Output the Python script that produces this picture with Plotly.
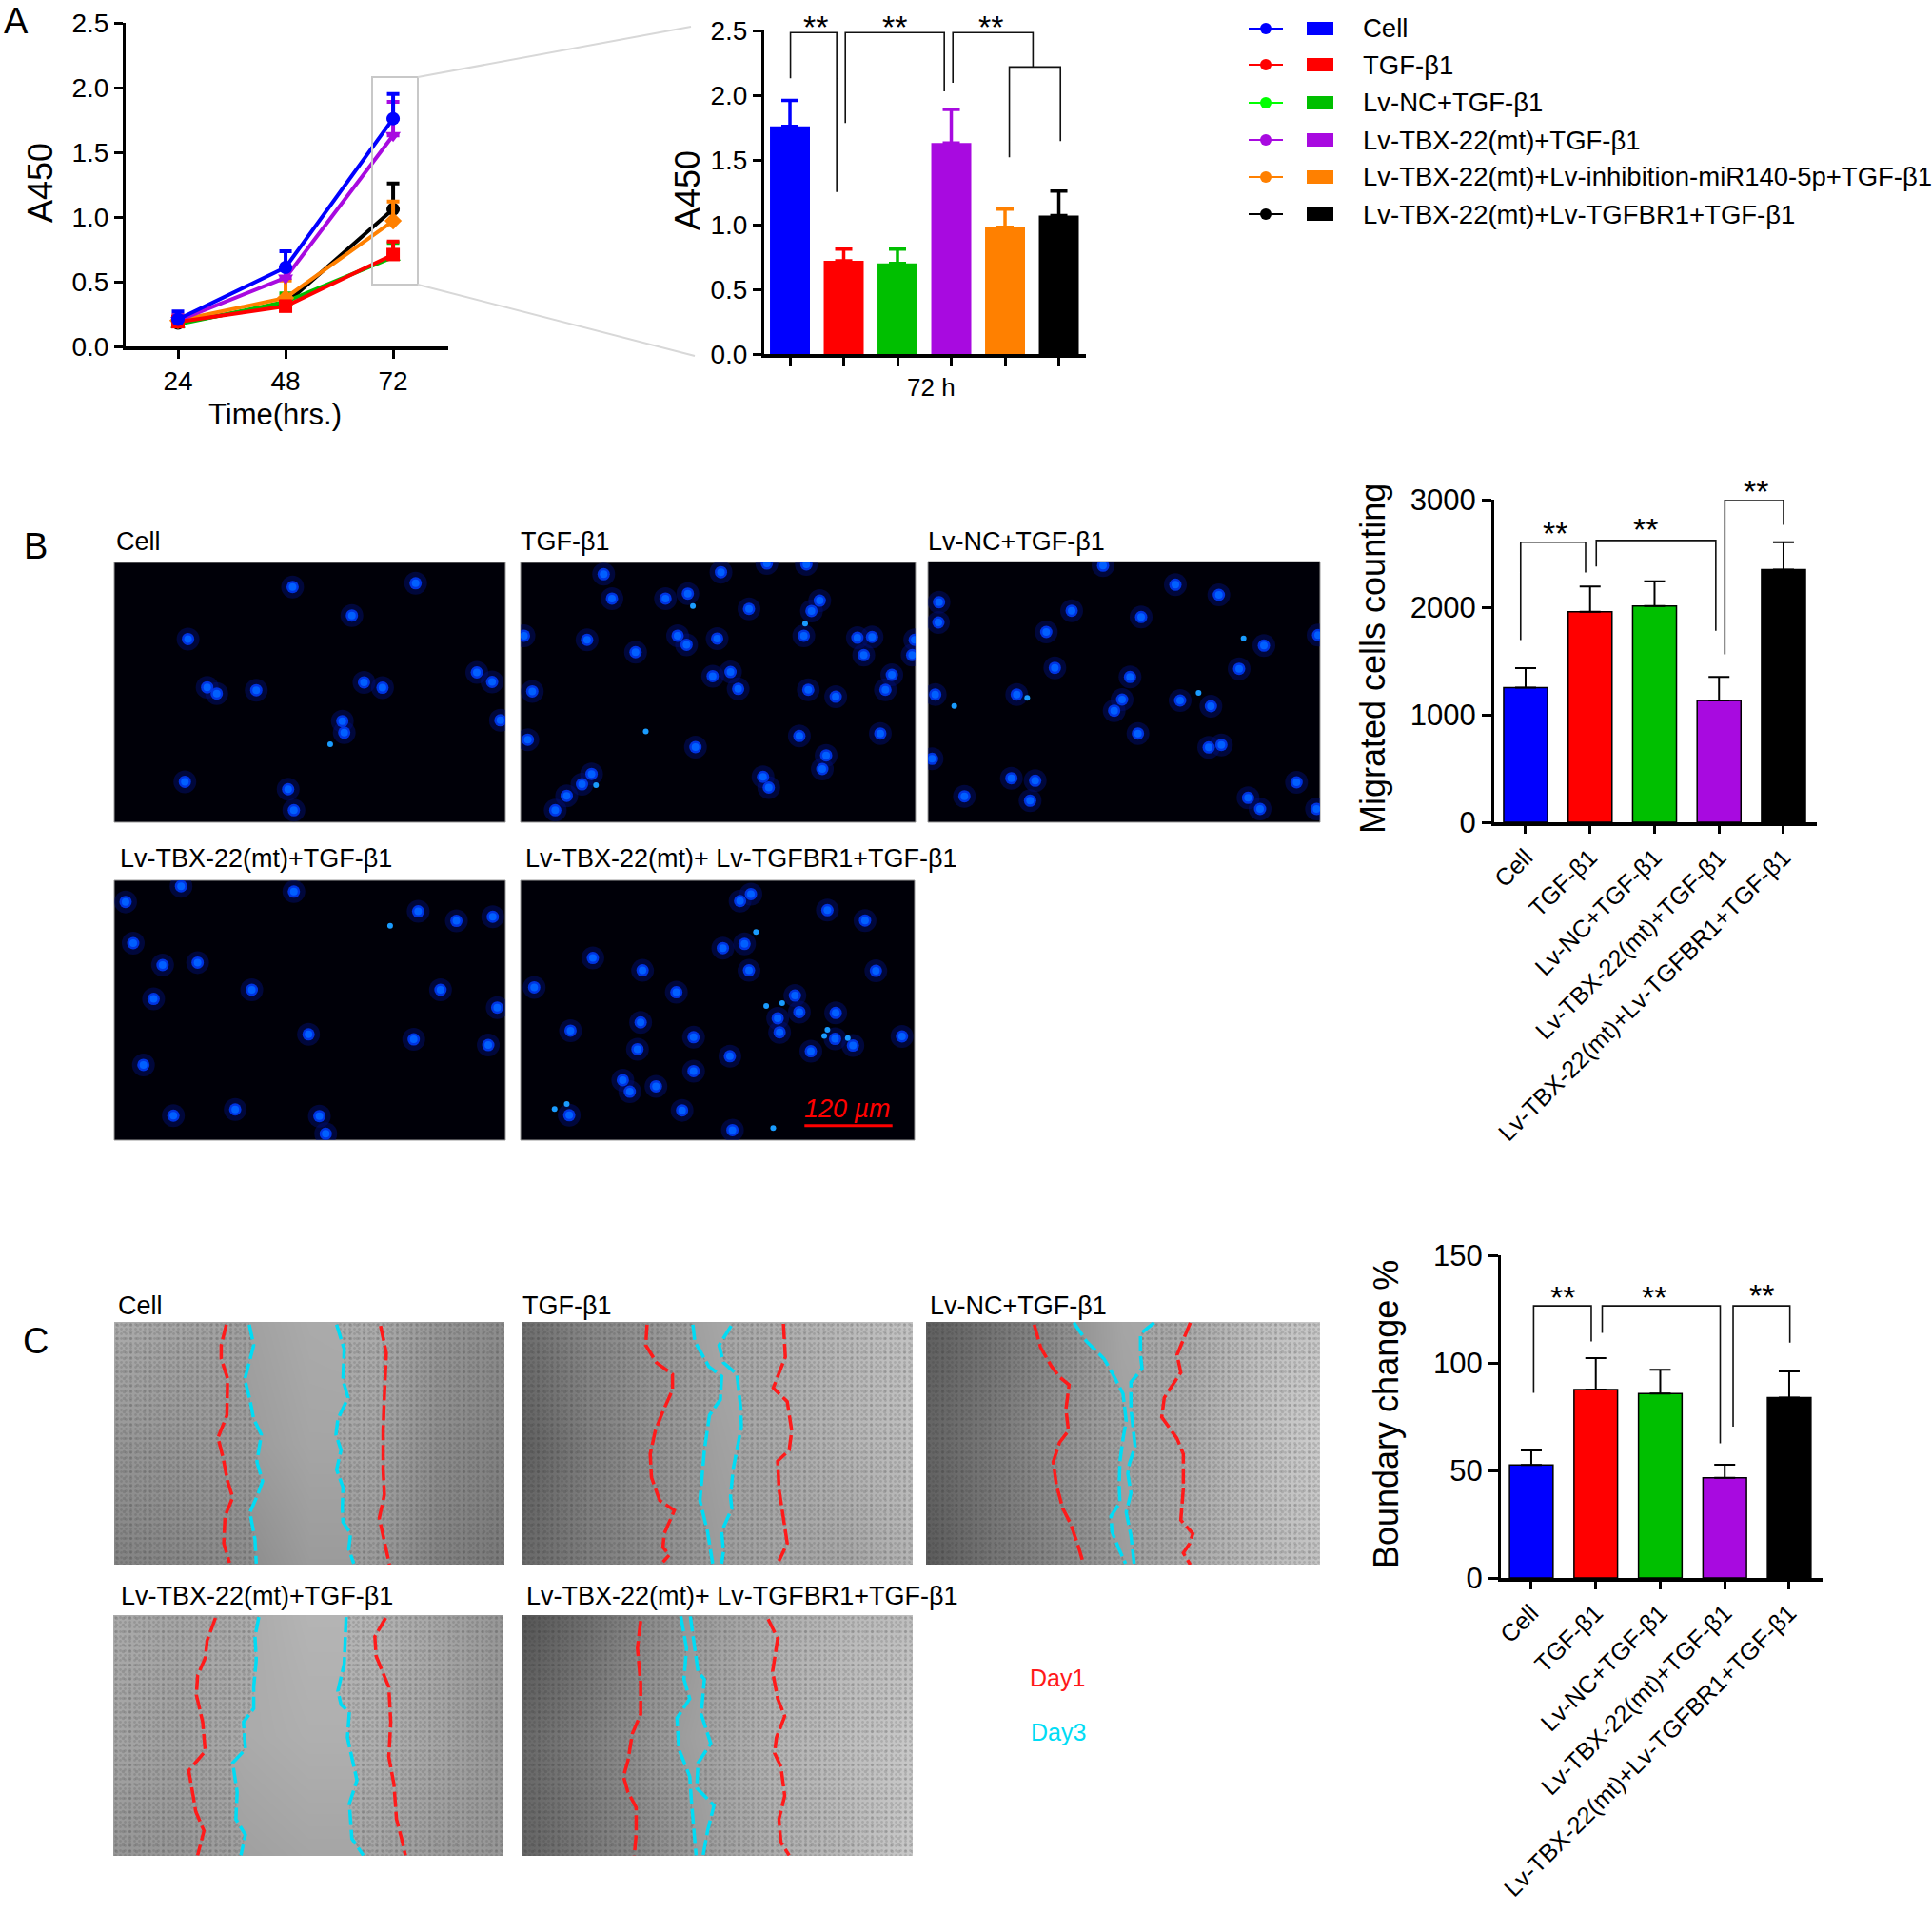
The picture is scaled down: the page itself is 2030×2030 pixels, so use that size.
import numpy as np
import plotly.graph_objects as go

W = 2030
H = 2030
FONT = "Liberation Sans"

# group names and colours
LEGEND_NAMES = ["Cell", "TGF-β1", "Lv-NC+TGF-β1", "Lv-TBX-22(mt)+TGF-β1",
                "Lv-TBX-22(mt)+Lv-inhibition-miR140-5p+TGF-β1", "Lv-TBX-22(mt)+Lv-TGFBR1+TGF-β1"]
SHORT_NAMES = ["Cell", "TGF-β1", "Lv-NC+TGF-β1", "Lv-TBX-22(mt)+TGF-β1", "Lv-TBX-22(mt)+Lv-TGFBR1+TGF-β1"]
COLORS = ["#0000ff", "#ff0000", "#00bf00", "#a80ae0", "#ff8000", "#000000"]
LEGEND_LINE_COLORS = ["#0000ff", "#ff0000", "#00ff00", "#a80ae0", "#ff8000", "#000000"]
SYMBOLS = ["circle", "square", "triangle-up", "triangle-down", "diamond", "circle"]
COLORS5 = ["#0000ff", "#ff0000", "#00bf00", "#a80ae0", "#000000"]

# panel A, line chart
HOURS = [24, 48, 72]
A_LINE_VALS = [
    [0.21, 0.61, 1.76],
    [0.19, 0.31, 0.71],
    [0.17, 0.345, 0.69],
    [0.20, 0.53, 1.63],
    [0.20, 0.375, 0.97],
    [0.18, 0.33, 1.06],
]
A_LINE_TOPS = [
    [0.27, 0.735, 1.95],
    [0.23, 0.35, 0.81],
    [0.20, 0.41, 0.80],
    [0.24, 0.60, 1.89],
    [0.24, 0.51, 1.12],
    [0.21, 0.37, 1.26],
]
A_LINE_ORDER = [5, 2, 4, 3, 1, 0]

# panel A, bars at 72 h
A_BAR_VALS = [1.76, 0.72, 0.70, 1.63, 0.98, 1.07]
A_BAR_TOPS = [1.96, 0.81, 0.81, 1.89, 1.12, 1.26]
A_BRACKETS = [
    ([0.01, 0.01, 0.87, 0.87], [2.13, 2.483, 2.483, 1.252]),
    ([1.03, 1.03, 2.87, 2.87], [1.785, 2.483, 2.483, 2.03]),
    ([3.03, 3.03, 4.52, 4.52], [2.095, 2.483, 2.483, 2.22]),
    ([4.08, 4.08, 5.03, 5.03], [1.52, 2.218, 2.218, 1.645]),
]
A_STARS = [(0.47, 2.59), (1.95, 2.59), (3.74, 2.59)]

# panel B, migrated cells
B_VALS = [1253, 1957, 2011, 1133, 2349]
B_TOPS = [1434, 2192, 2242, 1352, 2604]
B_BRACKETS = [
    ([-0.077, -0.077, 0.93, 0.93], [1694, 2604, 2604, 2324]),
    ([1.096, 1.096, 2.95, 2.95], [2378, 2621, 2621, 1780]),
    ([3.09, 3.09, 4.0, 4.0], [1562, 3000, 3000, 2765]),
]
B_STARS = [(0.456, 2760), (1.855, 2800), (3.57, 3150)]

# panel C, boundary change
C_VALS = [52.5, 87.6, 85.7, 46.6, 83.9]
C_TOPS = [59.3, 102.2, 96.8, 52.7, 96.0]
C_BRACKETS = [
    ([0.036, 0.036, 0.93, 0.93], [86.1, 126.5, 126.5, 110]),
    ([1.1, 1.1, 2.93, 2.93], [113.9, 126.5, 126.5, 62.6]),
    ([3.13, 3.13, 4.01, 4.01], [70.3, 126.5, 126.5, 109.4]),
]
C_STARS = [(0.48, 134), (1.91, 134), (3.57, 135)]

NUC_CELL = [(459, 177), (652, 168), (552, 246), (295, 303), (325, 420), (340, 435), (402, 427), (571, 408),
            (600, 421), (748, 384), (772, 407), (785, 500), (537, 502), (540, 530), (290, 649), (452, 667),
            (461, 718)]
NUC_CELL_SMALL = [(518, 558)]
NUC_TGF = [(947, 146), (1131, 141), (1203, 120), (1265, 122), (960, 205), (1044, 205), (1079, 193), (1175, 230),
           (1286, 210), (1273, 235), (1261, 295), (822, 295), (921, 305), (1063, 295), (1077, 317), (1125, 302),
           (997, 335), (1345, 300), (1368, 298), (1355, 342), (1435, 305), (1431, 342), (1118, 393), (1146, 383),
           (1158, 424), (1399, 390), (1389, 426), (1268, 426), (1311, 443), (835, 430), (1254, 538), (1381, 532),
           (828, 547), (1091, 565), (1296, 585), (1290, 618), (928, 630), (913, 655), (889, 683), (871, 718),
           (1197, 637), (1206, 663)]
NUC_TGF_SMALL = [(1087, 223), (1263, 266), (1013, 527), (935, 657)]
NUC_NC = [(597, 43), (825, 103), (962, 135), (80, 158), (78, 222), (498, 185), (717, 205), (418, 252), (1104, 295),
          (1275, 262), (445, 365), (1026, 368), (682, 394), (68, 449), (325, 449), (657, 465), (632, 500), (840, 468),
          (937, 486), (707, 572), (930, 616), (970, 608), (58, 652), (308, 713), (383, 721), (160, 770), (367, 784),
          (1207, 726), (1054, 775), (1092, 810), (1270, 810)]
NUC_NC_SMALL = [(1040, 272), (358, 460), (128, 485), (898, 444)]
NUC_TBX = [(197, 940), (284, 902), (461, 915), (656, 963), (716, 986), (773, 976), (209, 1040), (255, 1093),
           (310, 1087), (395, 1153), (691, 1153), (241, 1175), (780, 1196), (484, 1261), (649, 1273), (766, 1287),
           (225, 1335), (369, 1443), (272, 1458), (501, 1459), (511, 1502)]
NUC_TBX_SMALL = [(612, 998)]
NUC_BR1 = [(1178, 921), (1161, 938), (1298, 960), (1357, 985), (1168, 1042), (1134, 1052), (930, 1076), (1008, 1106),
           (1175, 1106), (1374, 1107), (838, 1147), (1061, 1159), (1247, 1167), (1254, 1207), (1220, 1222), (1311, 1209),
           (1005, 1232), (1223, 1256), (895, 1252), (1088, 1268), (1310, 1272), (1338, 1288), (1415, 1266), (1000, 1297),
           (1272, 1302), (1145, 1314), (1088, 1350), (977, 1372), (988, 1400), (1029, 1387), (893, 1457), (1070, 1445),
           (1149, 1493)]
NUC_BR1_SMALL = [(1186, 1013), (1227, 1185), (1202, 1192), (1298, 1250), (1293, 1265), (1330, 1270), (870, 1442),
                 (889, 1430), (1213, 1488)]
SCALE_BAR = [(1262, 1482), (1400, 1482)]

# scratch images: grey level read by eye on a coarse grid, 3 rows by 7 columns
GREY_C1 = [[172, 165, 160, 170, 172, 150, 140], [150, 150, 155, 165, 165, 140, 130], [130, 135, 140, 155, 155, 130, 120]]
GREY_C2 = [[110, 135, 150, 165, 175, 185, 195], [95, 125, 145, 160, 170, 180, 190], [105, 125, 140, 155, 165, 165, 180]]
GREY_C3 = [[95, 115, 140, 165, 170, 190, 200], [100, 120, 145, 160, 170, 190, 205], [90, 115, 135, 155, 170, 185, 195]]
GREY_C4 = [[170, 165, 170, 180, 180, 165, 150], [165, 160, 170, 175, 175, 165, 150], [150, 150, 160, 165, 165, 155, 150]]
GREY_C5 = [[85, 110, 140, 160, 175, 185, 190], [105, 125, 150, 165, 180, 190, 200], [100, 120, 140, 160, 175, 185, 200]]

# scratch borders, crop units
C1_RED_L = [(355, 127), (347, 180), (347, 215), (357, 265), (356, 360), (342, 418), (350, 470), (357, 530), (365, 572), (353, 620), (351, 690), (360, 740)]
C1_CYAN_L = [(391, 127), (398, 180), (384, 268), (392, 320), (398, 370), (410, 410), (403, 480), (412, 530), (403, 570), (392, 610), (400, 680), (402, 742)]
C1_CYAN_R = [(528, 127), (540, 190), (538, 270), (546, 315), (530, 370), (527, 410), (535, 450), (528, 500), (538, 545), (537, 600), (538, 635), (550, 665), (547, 705), (555, 742)]
C1_RED_R = [(597, 130), (606, 200), (603, 310), (601, 400), (601, 500), (603, 565), (595, 625), (603, 690), (611, 745)]
C2_RED_L = [(1015, 127), (1013, 180), (1030, 225), (1055, 255), (1055, 295), (1040, 350), (1028, 400), (1020, 460), (1022, 520), (1035, 580), (1058, 605), (1042, 665), (1040, 700), (1050, 720), (1040, 738)]
C2_CYAN_L = [(1087, 127), (1090, 170), (1112, 235), (1132, 260), (1130, 320), (1113, 360), (1105, 450), (1098, 580), (1110, 660), (1118, 742)]
C2_CYAN_R = [(1147, 130), (1128, 180), (1135, 225), (1156, 255), (1162, 340), (1163, 390), (1150, 500), (1146, 570), (1148, 600), (1132, 660), (1135, 710), (1132, 742)]
C2_RED_R = [(1229, 125), (1232, 210), (1213, 290), (1235, 325), (1242, 400), (1238, 450), (1220, 478), (1222, 550), (1235, 690), (1222, 735)]
C3_RED_L = [(380, 127), (400, 185), (435, 235), (460, 262), (490, 282), (480, 345), (488, 400), (460, 430), (440, 480), (450, 540), (470, 600), (495, 640), (520, 700), (535, 742)]
C3_CYAN_L = [(505, 122), (545, 170), (600, 215), (625, 250), (660, 305), (665, 345), (670, 375), (660, 420), (650, 480), (648, 540), (650, 585), (622, 620), (625, 660), (650, 710), (668, 742)]
C3_CYAN_R = [(758, 122), (715, 150), (715, 205), (720, 240), (685, 275), (685, 345), (692, 395), (698, 440), (680, 485), (675, 510), (685, 560), (670, 610), (685, 670), (695, 742)]
C3_RED_R = [(872, 122), (830, 205), (842, 250), (790, 315), (782, 365), (830, 420), (850, 460), (850, 550), (842, 630), (880, 665), (870, 690), (850, 715), (872, 745)]
C4_RED_L = [(338, 882), (325, 940), (322, 985), (310, 1030), (308, 1080), (318, 1150), (322, 1225), (296, 1275), (303, 1340), (307, 1380), (320, 1430), (310, 1493)]
C4_CYAN_L = [(406, 880), (400, 930), (402, 990), (398, 1060), (398, 1115), (382, 1150), (385, 1220), (365, 1255), (372, 1330), (370, 1400), (385, 1440), (378, 1493)]
C4_CYAN_R = [(543, 880), (540, 1000), (530, 1070), (535, 1105), (548, 1125), (545, 1190), (560, 1300), (548, 1360), (552, 1450), (570, 1493)]
C4_RED_R = [(605, 882), (588, 930), (590, 980), (610, 1060), (613, 1150), (610, 1240), (618, 1310), (622, 1400), (630, 1450), (636, 1493)]
C5_RED_L = [(1005, 890), (1000, 960), (1005, 1050), (1005, 1130), (992, 1180), (985, 1250), (978, 1290), (985, 1330), (998, 1370), (998, 1440), (995, 1493)]
C5_CYAN_L = [(1068, 878), (1077, 960), (1073, 1040), (1082, 1090), (1062, 1140), (1065, 1220), (1082, 1290), (1085, 1360), (1092, 1493)]
C5_CYAN_R = [(1083, 878), (1090, 960), (1095, 1020), (1105, 1040), (1100, 1130), (1115, 1205), (1095, 1255), (1093, 1320), (1120, 1365), (1110, 1430), (1103, 1493)]
C5_RED_R = [(1205, 885), (1220, 935), (1212, 1020), (1220, 1090), (1231, 1135), (1218, 1190), (1215, 1230), (1225, 1265), (1231, 1340), (1222, 1400), (1225, 1460), (1238, 1493)]

fig = go.Figure()
shapes = []
annotations = []
axis_n = 1


def px(x):
    return x / W


def py(y):
    return 1 - y / H


def add_axes(box, xrange, yrange, xkw=None, ykw=None):
    # box is x0, y0, x1, y1 in page pixels
    global axis_n
    axis_n += 1
    x0, y0, x1, y1 = box
    fig.layout[f"xaxis{axis_n}"] = dict(domain=[px(x0), px(x1)], range=xrange, anchor=f"y{axis_n}", automargin=False,
                                        **(xkw or dict(visible=False)))
    fig.layout[f"yaxis{axis_n}"] = dict(domain=[py(y1), py(y0)], range=yrange, anchor=f"x{axis_n}", automargin=False,
                                        **(ykw or dict(visible=False)))
    return f"x{axis_n}", f"y{axis_n}"


def page_text(x, y, s, size, color="black", anchor="left", angle=0, italic=False):
    annotations.append(dict(xref="paper", yref="paper", x=px(x), y=py(y), text=f"<i>{s}</i>" if italic else s,
                            showarrow=False, xanchor=anchor, yanchor="middle", textangle=angle,
                            font=dict(family=FONT, size=size, color=color)))


def page_line(x0, y0, x1, y1, color, width):
    shapes.append(dict(type="line", xref="paper", yref="paper", x0=px(x0), y0=py(y0), x1=px(x1), y1=py(y1),
                       line=dict(color=color, width=width)))


def axis_style(tickfont_size, **kw):
    return dict(showgrid=False, zeroline=False, showline=True, linecolor="black", ticks="outside",
                tickcolor="black", tickfont=dict(family=FONT, size=tickfont_size, color="black"), **kw)


def add_brackets(brackets, stars, xa, ya, box, ymax, star_size=34):
    for bx, by in brackets:
        fig.add_trace(go.Scatter(x=bx, y=by, xaxis=xa, yaxis=ya, mode="lines", line=dict(color="#111111", width=1.6),
                                 showlegend=False, hoverinfo="skip", cliponaxis=False))
    # star heights can pass the top of the axis, so they go by paper height
    for sx, sy in stars:
        y_page = box[3] - sy / ymax * (box[3] - box[1])
        annotations.append(dict(xref=xa, yref="paper", x=sx, y=py(y_page), text="**", showarrow=False, yshift=-8,
                                yanchor="middle", font=dict(family=FONT, size=star_size, color="black")))


def add_grouped_bars(vals, tops, colors, names, xa, ya, width, border, err_thick, err_cap, err_same_color):
    for i, (v, t) in enumerate(zip(vals, tops)):
        fig.add_trace(go.Bar(x=[i], y=[v], xaxis=xa, yaxis=ya, width=width, name=names[i], showlegend=False,
                             marker=dict(color=colors[i], line=dict(color="black", width=border)),
                             error_y=dict(type="data", symmetric=False, array=[t - v], arrayminus=[0],
                                          color=colors[i] if err_same_color else "black",
                                          thickness=err_thick, width=err_cap)))


# ---- panel A line chart
xa, ya = add_axes((132, 24, 471, 364), [12.32, 84.3], [0, 2.5],
                  axis_style(28, tickvals=HOURS, ticklen=9, tickwidth=3, linewidth=3.5),
                  axis_style(28, tickvals=[0, 0.5, 1, 1.5, 2, 2.5], tickformat=".1f", ticklen=9, tickwidth=3, linewidth=3))
for i in A_LINE_ORDER:
    vals = A_LINE_VALS[i]
    ups = [t - v for t, v in zip(A_LINE_TOPS[i], vals)]
    fig.add_trace(go.Scatter(x=HOURS, y=vals, xaxis=xa, yaxis=ya, mode="lines+markers", name=LEGEND_NAMES[i],
                             showlegend=False, cliponaxis=False,
                             line=dict(color=COLORS[i], width=4),
                             marker=dict(color=COLORS[i], size=14, symbol=SYMBOLS[i]),
                             error_y=dict(type="data", symmetric=False, array=ups, arrayminus=[0, 0, 0],
                                          color=COLORS[i], thickness=4, width=6.5)))
# zoom box and its guide lines
shapes.append(dict(type="rect", xref="paper", yref="paper", x0=px(391), x1=px(439), y0=py(81), y1=py(299),
                   line=dict(color="#c8c8c8", width=2)))
page_line(439, 81, 726, 28, "#d8d8d8", 2)
page_line(439, 299, 730, 374, "#d8d8d8", 2)

# ---- panel A bars
box = (803, 32, 1141, 372)
xa, ya = add_axes(box, [-0.478, 5.504], [0, 2.5],
                  axis_style(26, tickvals=list(range(6)), showticklabels=False, ticklen=9, tickwidth=2.5, linewidth=3.5),
                  axis_style(28, tickvals=[0, 0.5, 1, 1.5, 2, 2.5], tickformat=".1f", ticklen=9, tickwidth=3, linewidth=3))
add_grouped_bars(A_BAR_VALS, A_BAR_TOPS, COLORS, LEGEND_NAMES, xa, ya, 0.743, 0, 3.5, 9, True)
add_brackets(A_BRACKETS, A_STARS, xa, ya, box, 2.5)

# ---- panel B bars
box = (1570, 525, 1909, 864)
xa, ya = add_axes(box, [-0.487, 4.517], [0, 3000],
                  axis_style(25.5, tickvals=list(range(5)), ticktext=SHORT_NAMES, tickangle=-45, ticklen=8, tickwidth=3, linewidth=3.5),
                  axis_style(31, tickvals=[0, 1000, 2000, 3000], ticklen=10, tickwidth=3, linewidth=3))
add_grouped_bars(B_VALS, B_TOPS, COLORS5, SHORT_NAMES, xa, ya, 0.68, 1.5, 2, 11, False)
add_brackets(B_BRACKETS, B_STARS, xa, ya, box, 3000)

# ---- panel C bars
box = (1577, 1319, 1915, 1658)
xa, ya = add_axes(box, [-0.472, 4.517], [0, 150],
                  axis_style(25.5, tickvals=list(range(5)), ticktext=SHORT_NAMES, tickangle=-45, ticklen=8, tickwidth=3, linewidth=3.5),
                  axis_style(31, tickvals=[0, 50, 100, 150], ticklen=10, tickwidth=3, linewidth=3))
add_grouped_bars(C_VALS, C_TOPS, COLORS5, SHORT_NAMES, xa, ya, 0.675, 1.5, 2, 11, False)
add_brackets(C_BRACKETS, C_STARS, xa, ya, box, 150)


# ---- fluorescence images, box in page pixels, (sx, ox, sy, oy) turns page pixels into crop units
def fluor(box, conv, nuclei, small):
    sx, ox, sy, oy = conv
    x0, y0, x1, y1 = box
    xa, ya = add_axes(box, [(x0 - ox) * sx, (x1 - ox) * sx], [(y1 - oy) * sy, (y0 - oy) * sy])
    shapes.append(dict(type="rect", xref="paper", yref="paper", x0=px(x0), x1=px(x1), y0=py(y0), y1=py(y1),
                       fillcolor="#000008", line=dict(color="#9a9a9a", width=1), layer="below"))
    nx = [p[0] for p in nuclei]
    ny = [p[1] for p in nuclei]
    sxs = [p[0] for p in small]
    sys_ = [p[1] for p in small]
    for size, color, op in [(24, "#00107a", 0.45), (13, "#0034e0", 1), (8, "#0060ff", 1)]:
        fig.add_trace(go.Scatter(x=nx, y=ny, xaxis=xa, yaxis=ya, mode="markers", showlegend=False, hoverinfo="skip",
                                 marker=dict(size=size, color=color, opacity=op, line=dict(width=0))))
    fig.add_trace(go.Scatter(x=sxs, y=sys_, xaxis=xa, yaxis=ya, mode="markers", showlegend=False, hoverinfo="skip",
                             marker=dict(size=6, color="#1a9cff", line=dict(width=0))))
    return xa, ya


CONV_B = (1.493, 0, 2.306, 540)
CONV_B3 = (3, 960, 3, 580)
fluor((120, 591, 531, 864), CONV_B, NUC_CELL, NUC_CELL_SMALL)
fluor((547, 591, 962, 864), CONV_B, NUC_TGF, NUC_TGF_SMALL)
fluor((975, 590, 1387, 864), CONV_B3, NUC_NC, NUC_NC_SMALL)
fluor((120, 925, 531, 1198), CONV_B, NUC_TBX, NUC_TBX_SMALL)
xa, ya = fluor((547, 925, 961, 1198), CONV_B, NUC_BR1, NUC_BR1_SMALL)
fig.add_trace(go.Scatter(x=[p[0] for p in SCALE_BAR], y=[p[1] for p in SCALE_BAR], xaxis=xa, yaxis=ya, mode="lines",
                         line=dict(color="#ff0000", width=3), showlegend=False, hoverinfo="skip"))
page_text(890, 1165, "120 µm", 27, color="#ff0000", anchor="center", italic=True)


# ---- scratch images
def scratch(box, conv, grey, red_l, cyan_l, cyan_r, red_r):
    sx, ox, sy, oy = conv
    x0, y0, x1, y1 = box
    rx0, rx1 = (x0 - ox) * sx, (x1 - ox) * sx
    ry0, ry1 = (y0 - oy) * sy, (y1 - oy) * sy
    xa, ya = add_axes(box, [rx0, rx1], [ry1, ry0])
    fig.add_trace(go.Heatmap(z=grey, x=np.linspace(rx0, rx1, len(grey[0])), y=np.linspace(ry0, ry1, len(grey)),
                             xaxis=xa, yaxis=ya, zmin=0, zmax=255, zsmooth="best", showscale=False, hoverinfo="skip",
                             colorscale=[[0, "#000000"], [1, "#ffffff"]]))
    # cell sheet either side of the wound, a fill pattern bounded by the cyan borders
    for edge, curve in [(rx0, cyan_l), (rx1, cyan_r)]:
        poly_x = [edge, curve[0][0]] + [p[0] for p in curve] + [curve[-1][0], edge]
        poly_y = [ry0, ry0] + [p[1] for p in curve] + [ry1, ry1]
        for size, solidity, fg in [(5, 0.25, "rgba(40,40,40,0.30)"), (7, 0.2, "rgba(30,30,30,0.28)")]:
            fig.add_trace(go.Scatter(x=poly_x, y=poly_y, xaxis=xa, yaxis=ya, mode="none", fill="toself",
                                     fillcolor="rgba(0,0,0,0)", showlegend=False, hoverinfo="skip",
                                     fillpattern=dict(shape=".", size=size, solidity=solidity, fgcolor=fg,
                                                      bgcolor="rgba(0,0,0,0)")))
    for curve, color in [(red_l, "#ff1a1a"), (cyan_l, "#00dcf5"), (cyan_r, "#00dcf5"), (red_r, "#ff1a1a")]:
        fig.add_trace(go.Scatter(x=[p[0] for p in curve], y=[p[1] for p in curve], xaxis=xa, yaxis=ya, mode="lines",
                                 line=dict(color=color, width=3.5, dash="16px,5px"), showlegend=False, hoverinfo="skip"))


CONV_C = (1.493, 0, 2.45, 1340)
CONV_C3 = (3, 960, 2.45, 1340)
scratch((120, 1389, 530, 1644), CONV_C, GREY_C1, C1_RED_L, C1_CYAN_L, C1_CYAN_R, C1_RED_R)
scratch((548, 1389, 959, 1644), CONV_C, GREY_C2, C2_RED_L, C2_CYAN_L, C2_CYAN_R, C2_RED_R)
scratch((973, 1389, 1387, 1644), CONV_C3, GREY_C3, C3_RED_L, C3_CYAN_L, C3_CYAN_R, C3_RED_R)
scratch((119, 1697, 529, 1950), CONV_C, GREY_C4, C4_RED_L, C4_CYAN_L, C4_CYAN_R, C4_RED_R)
scratch((549, 1697, 959, 1950), CONV_C, GREY_C5, C5_RED_L, C5_CYAN_L, C5_CYAN_R, C5_RED_R)

# ---- legend
LEGEND_ROWS = [30, 68, 108, 147, 186, 225]
for i, name in enumerate(LEGEND_NAMES):
    row = LEGEND_ROWS[i]
    page_line(1312, row, 1348, row, LEGEND_LINE_COLORS[i], 2)
    shapes.append(dict(type="circle", xref="paper", yref="paper", x0=px(1324), x1=px(1336), y0=py(row - 6), y1=py(row + 6),
                       fillcolor=LEGEND_LINE_COLORS[i], line=dict(width=0)))
    shapes.append(dict(type="rect", xref="paper", yref="paper", x0=px(1373), x1=px(1401), y0=py(row - 7), y1=py(row + 7),
                       fillcolor=COLORS[i], line=dict(width=0)))
    page_text(1430, row, name, 27.5)

# ---- text
page_text(2, 22, "A", 38)
page_text(23, 574, "B", 38)
page_text(22, 1409, "C", 38)
page_text(42, 192, "A450", 36, anchor="center", angle=-90)
page_text(289, 435, "Time(hrs.)", 31, anchor="center")
page_text(723, 200, "A450", 36, anchor="center", angle=-90)
page_text(978, 407, "72 h", 26, anchor="center")
page_text(1442, 692, "Migrated cells counting", 36, anchor="center", angle=-90)
page_text(1456, 1486, "Boundary change %", 36, anchor="center", angle=-90)
page_text(120, 569, "Cell", 27)
page_text(545, 569, "TGF-β1", 27)
page_text(973, 569, "Lv-NC+TGF-β1", 27)
page_text(124, 902, "Lv-TBX-22(mt)+TGF-β1", 27)
page_text(550, 902, "Lv-TBX-22(mt)+ Lv-TGFBR1+TGF-β1", 27)
page_text(122, 1372, "Cell", 27)
page_text(547, 1372, "TGF-β1", 27)
page_text(975, 1372, "Lv-NC+TGF-β1", 27)
page_text(125, 1677, "Lv-TBX-22(mt)+TGF-β1", 27)
page_text(551, 1677, "Lv-TBX-22(mt)+ Lv-TGFBR1+TGF-β1", 27)
page_text(1080, 1763, "Day1", 25, color="#ff1a1a")
page_text(1081, 1820, "Day3", 25, color="#00dcf5")

fig.update_layout(width=W, height=H, margin=dict(l=0, r=0, t=0, b=0), paper_bgcolor="white", plot_bgcolor="rgba(0,0,0,0)",
                  showlegend=False, shapes=shapes, annotations=annotations, barmode="overlay",
                  font=dict(family=FONT))

fig.write_html("out.html", config={"displayModeBar": False}, post_script="document.body.style.margin='0';")
